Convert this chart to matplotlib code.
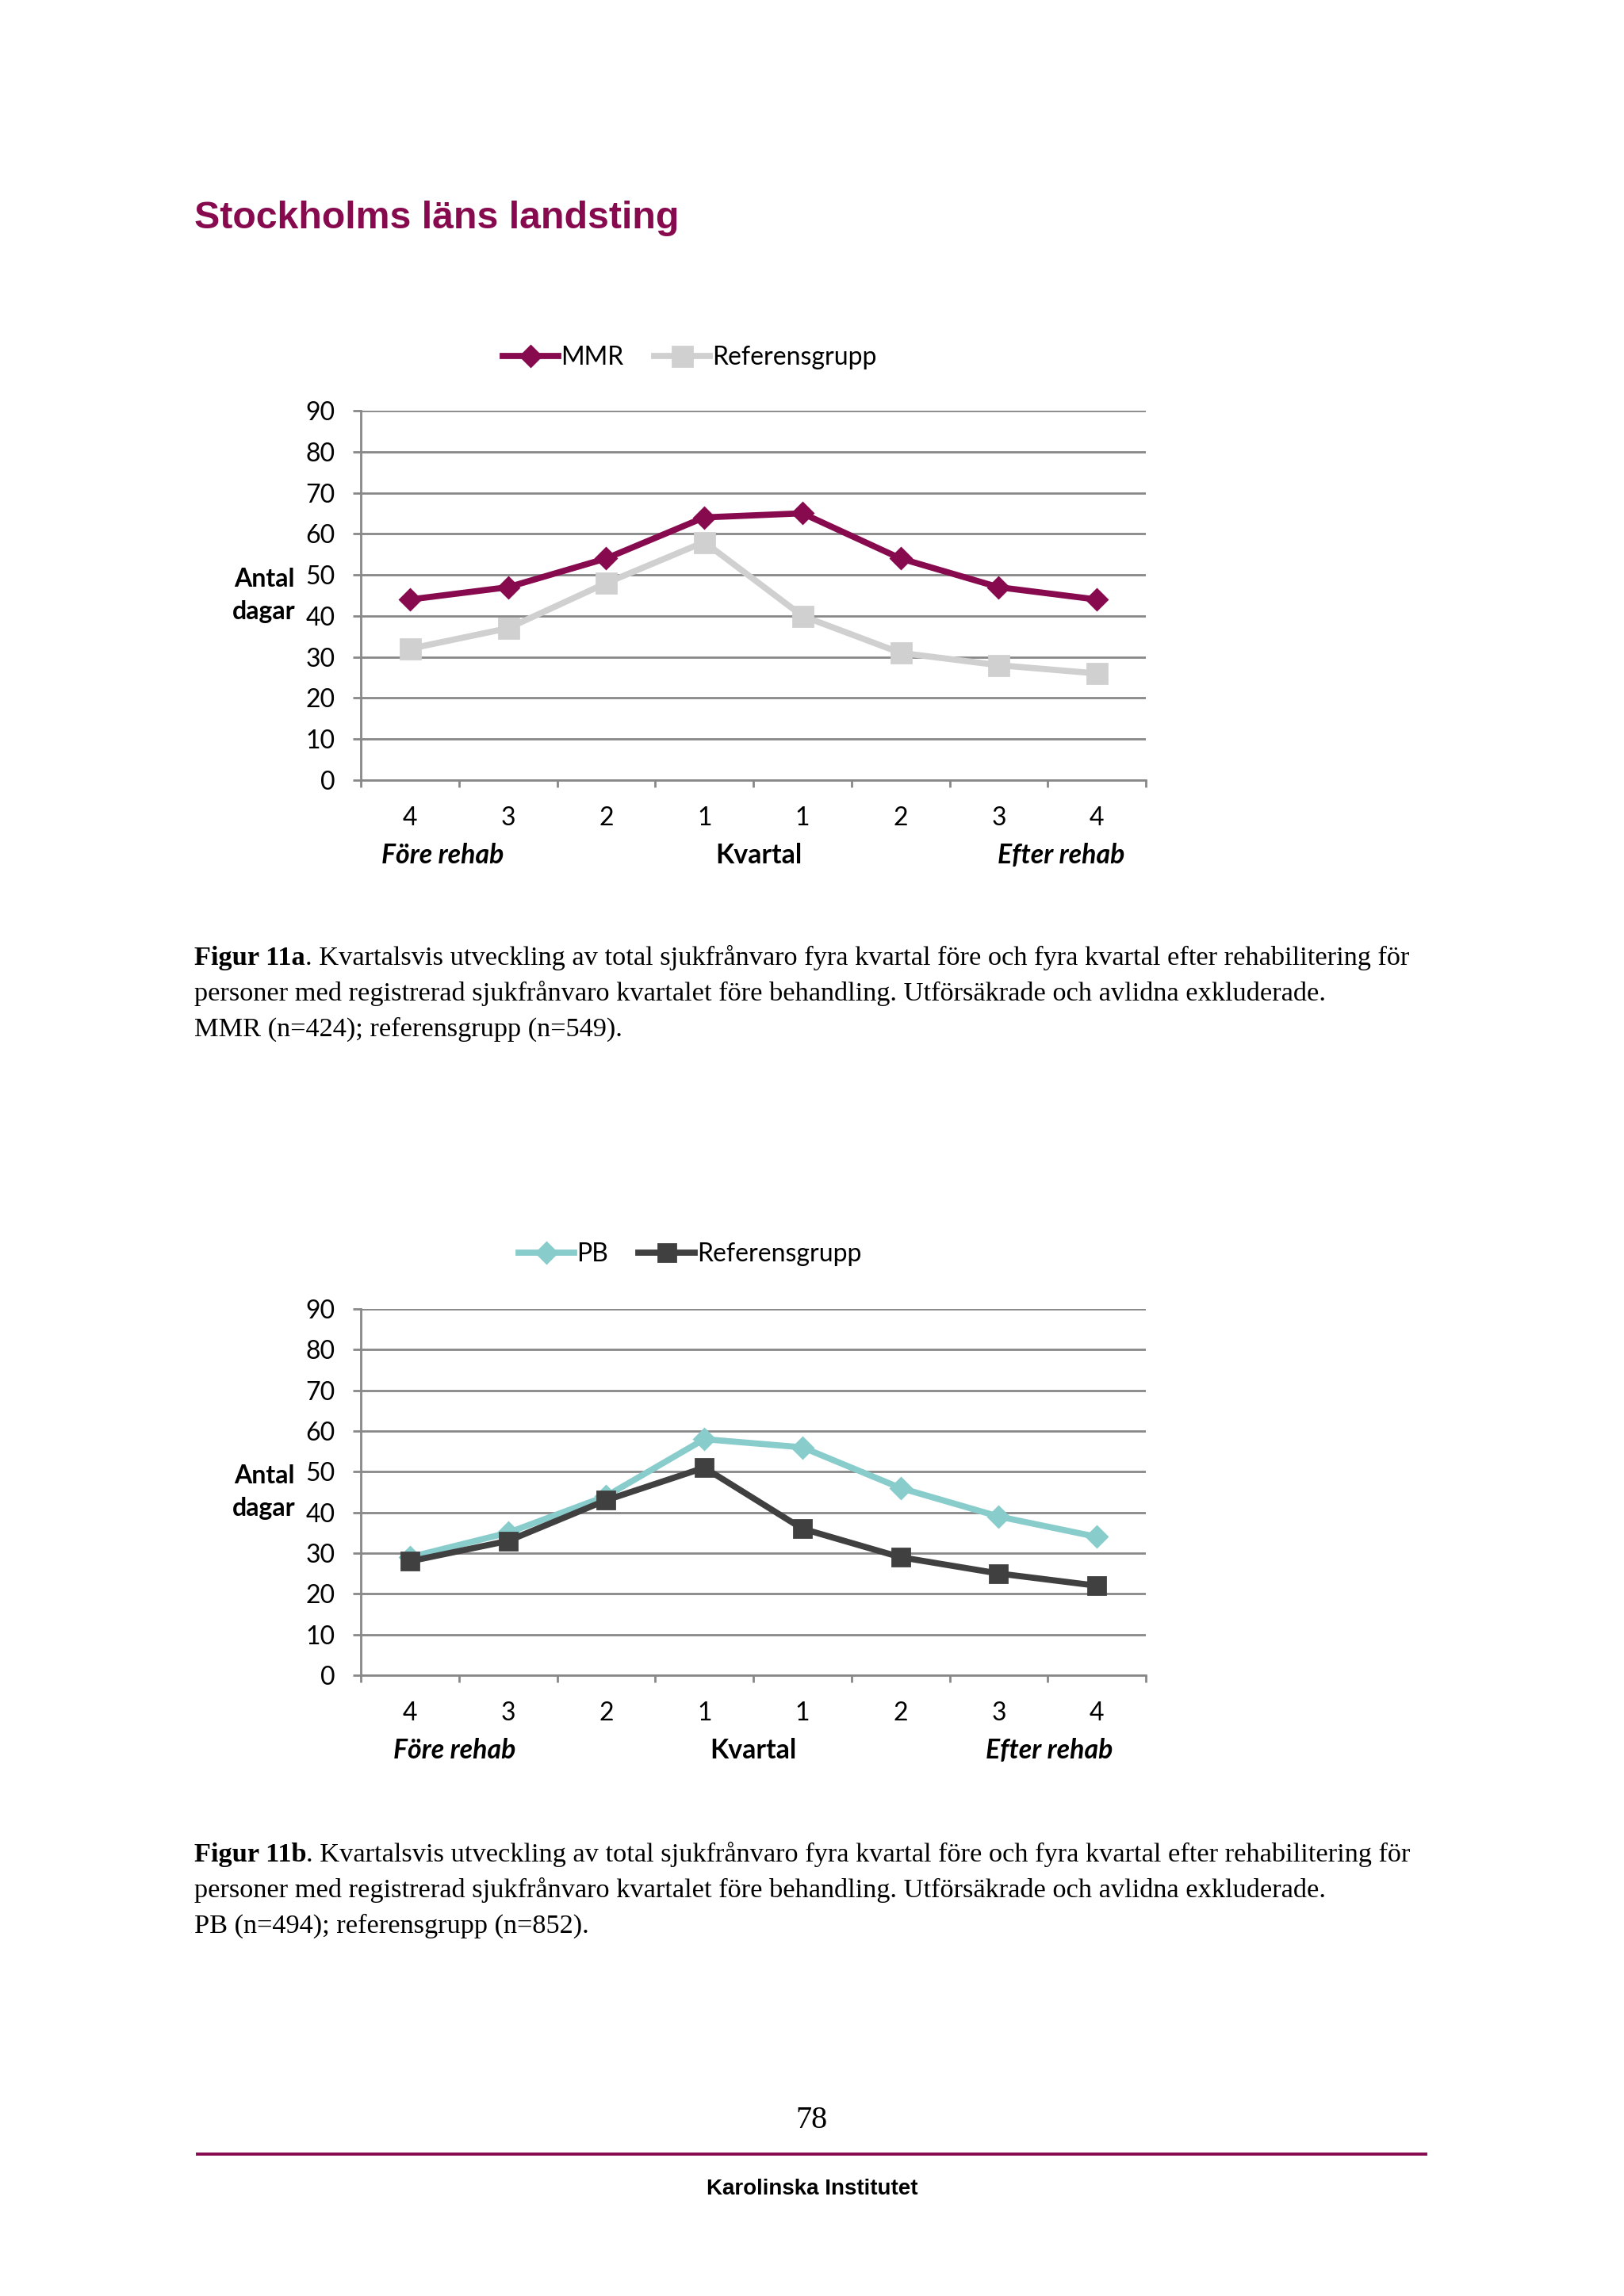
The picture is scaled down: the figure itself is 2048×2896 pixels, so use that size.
import matplotlib
matplotlib.use('Agg')
import matplotlib.pyplot as plt
from matplotlib.lines import Line2D

# Data
kvartal = ['4', '3', '2', '1', '1', '2', '3', '4']
mmr = [44, 47, 54, 64, 65, 54, 47, 44]
ref_a = [32, 37, 48, 58, 40, 31, 28, 26]
pb = [29, 35, 44, 58, 56, 46, 39, 34]
ref_b = [28, 33, 43, 51, 36, 29, 25, 22]
yticks = [0, 10, 20, 30, 40, 50, 60, 70, 80, 90]

W, H = 2048, 2896
DPI = 200
PURPLE = '#870a4f'
GRID = '#888888'
CHART_FONT = 'Lato'

fig = plt.figure(figsize=(W / DPI, H / DPI), dpi=DPI)
fig.patch.set_facecolor('white')


def fx(x):
    return x / W


def fy(y):
    return 1 - y / H


def chart(top, bottom, series, legend_x, legend_y, lab_x):
    ax = fig.add_axes([fx(455), fy(bottom), fx(1445) - fx(455), fy(top) - fy(bottom)])
    xs = list(range(len(kvartal)))
    handles = []
    for vals, name, col, mk, ms in series:
        h, = ax.plot(xs, vals, color=col, lw=2.8, marker=mk, ms=ms,
                     markerfacecolor=col, markeredgecolor=col, label=name, zorder=3)
        handles.append(h)
    ax.set_xlim(-0.5, 7.5)
    ax.set_ylim(0, 90)
    ax.set_yticks(yticks)
    ax.set_yticklabels([str(v) for v in yticks], fontsize=11.5, family=CHART_FONT)
    ax.set_xticks([i - 0.5 for i in range(9)])
    ax.set_xticklabels([])
    ax.set_xticks(xs, minor=True)
    ax.set_xticklabels(kvartal, minor=True, fontsize=11.5, family=CHART_FONT)
    ax.tick_params(axis='x', which='major', direction='out', length=3.3, width=1.0, color=GRID)
    ax.tick_params(axis='x', which='minor', length=0, pad=12)
    ax.tick_params(axis='y', direction='out', length=3.6, width=1.0, color=GRID, pad=8)
    ax.grid(axis='y', color=GRID, lw=1.0, zorder=0)
    for s in ['top', 'right']:
        ax.spines[s].set_visible(False)
    for s in ['left', 'bottom']:
        ax.spines[s].set_color(GRID)
        ax.spines[s].set_linewidth(1.0)
    ax.set_axisbelow(True)
    fig.legend(handles=handles, loc='center', bbox_to_anchor=(fx(legend_x), fy(legend_y)),
               ncol=2, frameon=False, handlelength=2.2, handletextpad=0.1,
               columnspacing=1.2, prop={'family': CHART_FONT, 'size': 11.5})
    fig.text(fx(333), fy((top + bottom) / 2), 'Antal\ndagar', ha='center', va='center',
             fontsize=11.5, family=CHART_FONT, weight='bold', linespacing=1.5)
    y_lab = bottom + 95
    for x, t, st in [(lab_x[0], 'Före rehab', 'italic'), (lab_x[1], 'Kvartal', 'normal'),
                     (lab_x[2], 'Efter rehab', 'italic')]:
        fig.text(fx(x), fy(y_lab), t, ha='center', va='center', fontsize=12.2,
                 family=CHART_FONT, weight='bold', style=st)
    return ax


def caption(y0, label, lines):
    serif = 'Liberation Serif'
    size = 12.4
    b = fig.text(fx(245), fy(y0), label, ha='left', va='baseline', fontsize=size,
                 family=serif, weight='bold')
    plt.annotate(lines[0], xy=(1, fy(y0)), xycoords=(b, 'figure fraction'), ha='left',
                 va='baseline', fontsize=size, family=serif)
    for i, ln in enumerate(lines[1:]):
        fig.text(fx(245), fy(y0 + 45 * (i + 1)), ln, ha='left', va='baseline',
                 fontsize=size, family=serif)


# Title
fig.text(fx(245), fy(276), 'Stockholms läns landsting', ha='left', va='center',
         fontsize=17.4, family='Liberation Sans', weight='bold', color=PURPLE)

chart(518, 984,
      [(mmr, 'MMR', PURPLE, 'D', 6.5), (ref_a, 'Referensgrupp', '#d0d0d0', 's', 9.0)],
      870, 451, (558, 957, 1338))
caption(1217, 'Figur 11a',
        ['. Kvartalsvis utveckling av total sjukfrånvaro fyra kvartal före och fyra kvartal efter rehabilitering för',
         'personer med registrerad sjukfrånvaro kvartalet före behandling. Utförsäkrade och avlidna exkluderade.',
         'MMR (n=424); referensgrupp (n=549).'])

chart(1651, 2113,
      [(pb, 'PB', '#89cccc', 'D', 6.5), (ref_b, 'Referensgrupp', '#404040', 's', 8.0)],
      870, 1582, (573, 950, 1323))
caption(2348, 'Figur 11b',
        ['. Kvartalsvis utveckling av total sjukfrånvaro fyra kvartal före och fyra kvartal efter rehabilitering för',
         'personer med registrerad sjukfrånvaro kvartalet före behandling. Utförsäkrade och avlidna exkluderade.',
         'PB (n=494); referensgrupp (n=852).'])

# Footer
fig.text(0.5, fy(2674), '78', ha='center', va='center', fontsize=14.5, family='Liberation Serif')
fig.add_artist(Line2D([fx(249), fx(1798)], [fy(2717), fy(2717)], color=PURPLE, lw=1.4))
fig.text(0.5, fy(2761), 'Karolinska Institutet', ha='center', va='center', fontsize=10,
         family='Liberation Sans', weight='bold')

fig.savefig('out.png', dpi=DPI, facecolor='white')
